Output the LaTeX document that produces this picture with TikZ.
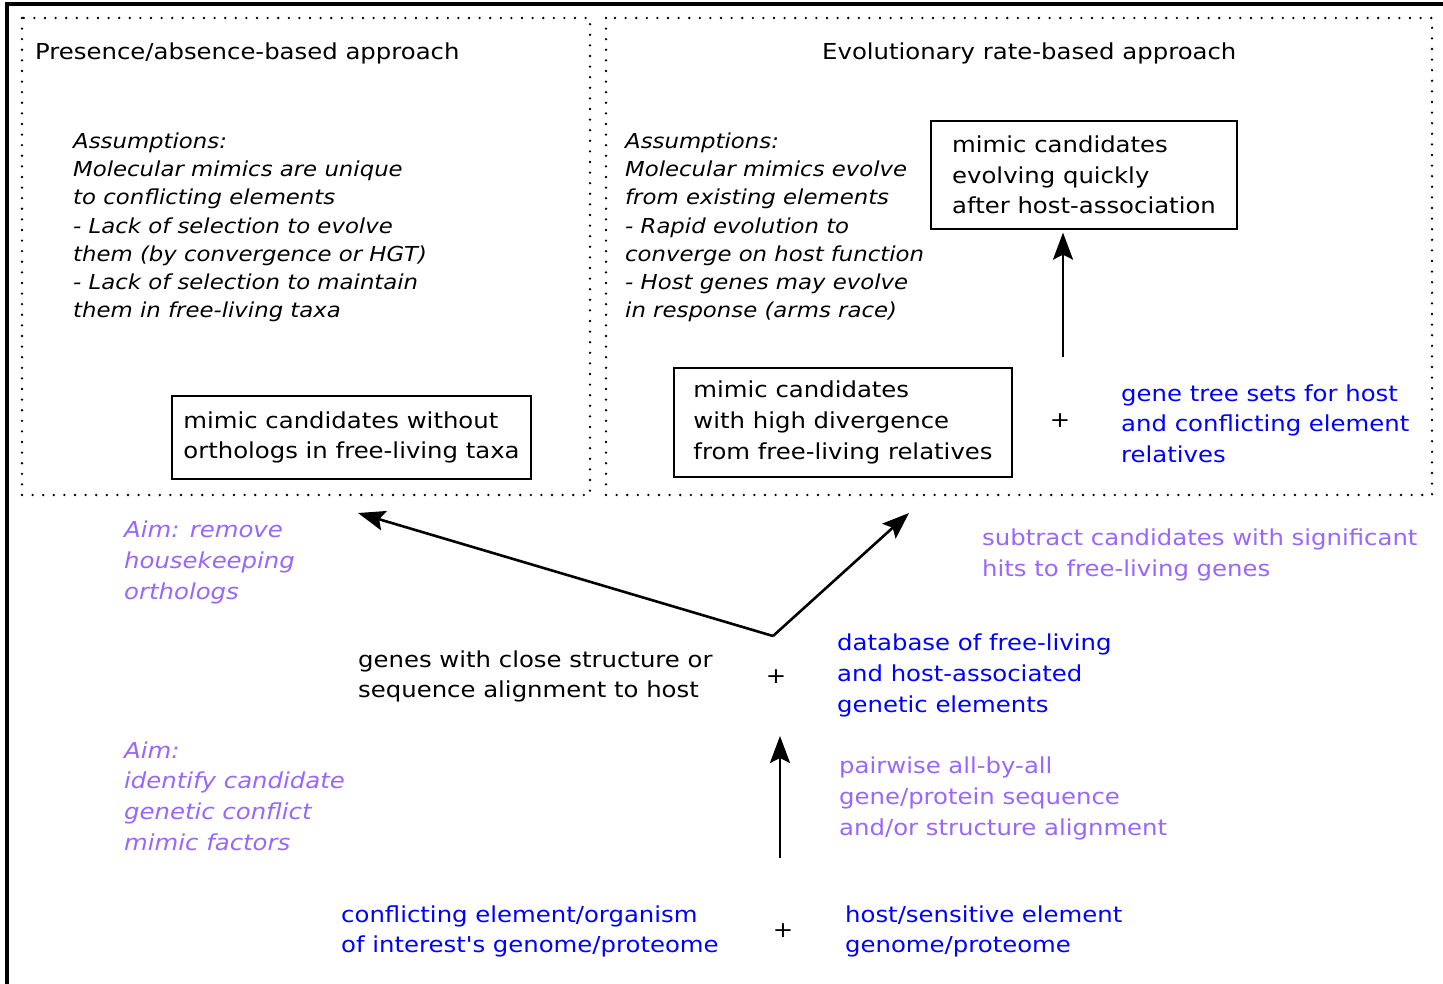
\documentclass[tikz,border=0pt]{standalone}
\usepackage{fontspec}
\setmainfont{DejaVu Sans}[FakeStretch=1.107, Ligatures=TeXOff]
\usetikzlibrary{arrows.meta}
\definecolor{myblue}{HTML}{0000FF}
\definecolor{mypurple}{HTML}{9966FF}
\tikzset{
  txt/.style={anchor=west, align=left, inner sep=0pt, yshift=-2pt, font=\fontsize{22}{30.6}\selectfont},
  ital/.style={txt, font=\fontsize{20.6}{28.2}\selectfont\itshape},
  bluetxt/.style={txt, text=myblue},
  purptxt/.style={txt, text=mypurple},
  purpital/.style={txt, text=mypurple, font=\fontsize{22}{30.6}\selectfont\itshape},
  resbox/.style={draw, line width=1.3pt, align=left, inner sep=0pt, font=\fontsize{22}{30.6}\selectfont},
  panel/.style={line width=2.6pt, dash pattern=on 0pt off 10.6pt, line cap=round},
  arr/.style={line width=2.6pt, -{Stealth[length=27pt, width=20pt, inset=5pt]}},
  plus/.style={inner sep=0pt, font=\fontsize{22}{25}\selectfont},
}
\begin{document}
\begin{tikzpicture}[x=1pt, y=-1pt]
\useasboundingbox (0,0) rectangle (1443,984);
% outer frame
\draw[line width=3.2pt] (7,984) -- (7,4) -- (1443,4);
% panels
\draw[panel] (22,18) rectangle (590,495);
\draw[panel] (606,18) rectangle (1432,495);
% titles
\node[txt] (t1) at (35,51) {Presence/absence-based approach};
\node[txt] (t2) at (822,51) {Evolutionary rate-based approach};
% assumptions
\node[ital] (as1) at (73,225.5) {Assumptions:\\Molecular mimics are unique\\to conflicting elements\\- Lack of selection to evolve\\them (by convergence or HGT)\\- Lack of selection to maintain\\them in free-living taxa};
\node[ital] (as2) at (625,225.5) {Assumptions:\\Molecular mimics evolve\\from existing elements\\- Rapid evolution to\\converge on host function\\- Host genes may evolve\\in response (arms race)};
% boxes
\node[resbox, minimum width=359pt, minimum height=83pt] (b1) at (351.5,437.5) {mimic candidates without\\orthologs in free-living taxa};
\node[resbox, minimum width=306pt, minimum height=108pt] (b2) at (1084,175) {mimic candidates\\evolving quickly\\after host-association};
\node[resbox, minimum width=338pt, minimum height=109pt] (b3) at (843,422.5) {mimic candidates\\with high divergence\\from free-living relatives};
\node[plus] (p1) at (1060,421) {+};
\node[bluetxt] (gt) at (1121,421.5) {gene tree sets for host\\and conflicting element\\relatives};
\coordinate (s2) at (1063,357);
\draw[arr] (s2) -- ([yshift=-3pt]s2 |- b2.south);
% middle
\node[purpital] (aim1) at (124,560.5) {Aim: remove\\housekeeping\\orthologs};
\node[purptxt] (sub) at (982,553) {subtract candidates with significant\\hits to free-living genes};
\coordinate (j) at (773,636);
\coordinate (e1) at (358,513);
\coordinate (e2) at (909,513);
\draw[arr] (j) -- (e1);
\draw[arr] (j) -- (e2);
\node[txt] (genes) at (358,674.5) {genes with close structure or\\sequence alignment to host};
\node[plus] (p2) at (776,677) {+};
\node[bluetxt] (db) at (837,673.5) {database of free-living\\and host-associated\\genetic elements};
% lower
\node[purpital] (aim2) at (124,794) {Aim:\\identify candidate\\genetic conflict\\mimic factors};
\coordinate (s1) at (780,858);
\coordinate (e3) at (780,736);
\draw[arr] (s1) -- (e3);
\node[purptxt] (pw) at (839,796.5) {pairwise all-by-all\\gene/protein sequence\\and/or structure alignment};
\node[bluetxt] (ce) at (341,929.5) {conflicting element/organism\\of interest's genome/proteome};
\node[plus] (p3) at (783,931) {+};
\node[bluetxt] (hs) at (845,929.5) {host/sensitive element\\genome/proteome};
\end{tikzpicture}
\end{document}
